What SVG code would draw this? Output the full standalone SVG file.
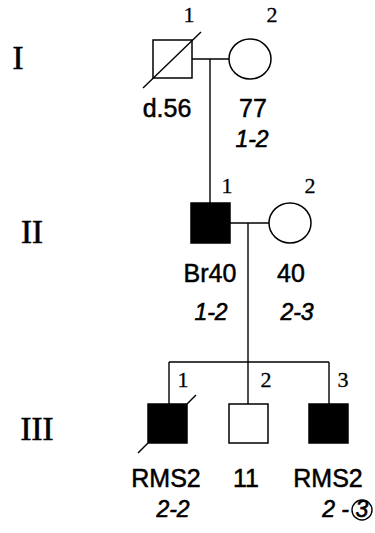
<svg xmlns="http://www.w3.org/2000/svg" width="375" height="533" viewBox="0 0 375 533">
<style>
.ln{stroke:#000;stroke-width:1.4;fill:none}
.sym{stroke:#000;stroke-width:1.5;fill:#fff}
.aff{fill:#000}
.gen{font-family:"Liberation Serif",serif;font-size:33px;text-anchor:middle;fill:#000;stroke:#000;stroke-width:0.6}
.num{font-family:"Liberation Serif",serif;font-size:22px;text-anchor:middle;fill:#000;stroke:#000;stroke-width:0.3}
.lab{font-family:"Liberation Sans",Arial,sans-serif;font-size:25px;text-anchor:middle;fill:#000;stroke:#000;stroke-width:0.5}
.it{font-family:"Liberation Sans",Arial,sans-serif;font-size:23px;font-style:italic;text-anchor:middle;fill:#000;stroke:#000;stroke-width:0.6}
</style>
<rect width="375" height="533" fill="#fff"/>
<g id="connectors">
<line class="ln" x1="192" y1="59" x2="229" y2="59"/>
<line class="ln" x1="210" y1="59" x2="210" y2="203"/>
<line class="ln" x1="230" y1="223" x2="269" y2="223"/>
<line class="ln" x1="248" y1="223" x2="248" y2="362"/>
<line class="ln" x1="169" y1="362" x2="329" y2="362"/>
<line class="ln" x1="169" y1="362" x2="169" y2="404"/>
<line class="ln" x1="248" y1="362" x2="248" y2="404"/>
<line class="ln" x1="329" y1="362" x2="329" y2="404"/>
</g>
<g id="generations">
<text class="gen" x="18" y="69">I</text>
<text class="gen" x="32" y="243">II</text>
<text class="gen" x="37" y="440">III</text>
</g>
<g id="I-1">
<rect class="sym" x="153" y="40" width="39" height="38"/>
<line class="ln" x1="143" y1="88" x2="201" y2="32"/>
<text class="num" x="189" y="22">1</text>
<text class="lab" x="167" y="117">d.56</text>
</g>
<g id="I-2">
<ellipse class="sym" cx="250" cy="59" rx="21" ry="20"/>
<text class="num" x="272" y="22">2</text>
<text class="lab" x="253" y="117">77</text>
<text class="it" x="252" y="147">1-2</text>
</g>
<g id="II-1">
<rect class="sym aff" x="191" y="203" width="39" height="40"/>
<text class="num" x="227" y="193">1</text>
<text class="lab" x="210" y="282">Br40</text>
<text class="it" x="211" y="320">1-2</text>
</g>
<g id="II-2">
<ellipse class="sym" cx="290" cy="223" rx="21" ry="20"/>
<text class="num" x="310" y="193">2</text>
<text class="lab" x="291" y="282">40</text>
<text class="it" x="297" y="320">2-3</text>
</g>
<g id="III-1">
<rect class="sym aff" x="148" y="404" width="39" height="39"/>
<line class="ln" x1="187" y1="404" x2="196" y2="395"/>
<line class="ln" x1="148" y1="443" x2="138" y2="453"/>
<text class="num" x="183" y="387">1</text>
<text class="lab" x="166" y="487">RMS2</text>
<text class="it" x="173" y="517">2-2</text>
</g>
<g id="III-2">
<rect class="sym" x="229" y="404" width="39" height="39"/>
<text class="num" x="266" y="387">2</text>
<text class="lab" x="246" y="487">11</text>
</g>
<g id="III-3">
<rect class="sym aff" x="309" y="404" width="39" height="39"/>
<text class="num" x="343" y="387">3</text>
<text class="lab" x="328" y="487">RMS2</text>
<text class="it" x="349" y="517" style="text-anchor:end">2 -</text>
<circle cx="362" cy="510" r="10" fill="none" stroke="#000" stroke-width="1.4"/>
<text class="it" x="362" y="517">3</text>
</g>
</svg>
